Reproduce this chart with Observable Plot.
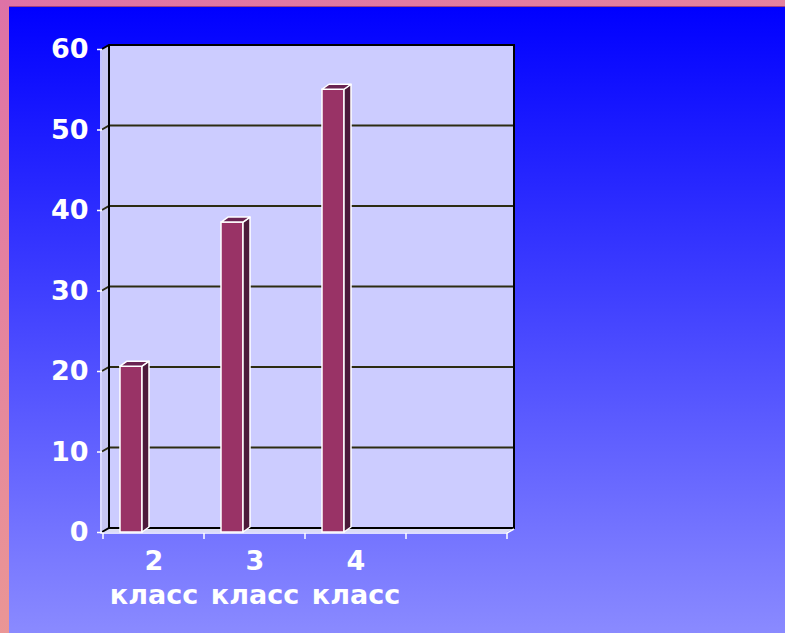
<!DOCTYPE html>
<html><head><meta charset="utf-8">
<script src="https://cdn.jsdelivr.net/npm/d3@7"></script>
<script src="https://cdn.jsdelivr.net/npm/@observablehq/plot@0.6"></script>
<style>
html,body{margin:0;padding:0;width:785px;height:633px;overflow:hidden;}
#bg{position:absolute;left:0;top:0;width:785px;height:633px;background:linear-gradient(160deg,#de72a6,#f0a68e);}
#inner{position:absolute;left:9px;top:6px;right:0;bottom:0;background:linear-gradient(#0000ff,#8a8aff);border-top:1px solid #a04080;}
#chart{position:absolute;left:0;top:0;}
</style></head><body>
<div id="bg"></div><div id="inner"></div><div id="chart"></div>
<script>
const classes = ["2 класс", "3 класс", "4 класс"];
const values = [20.6, 38.5, 55];
const categories = [...classes, ""];
const yTicks = [0, 10, 20, 30, 40, 50, 60];

const DX = 7, DY = -4;
const BDX = 7, BDY = -5;
const INSET_L = 17, INSET_R = 62;

function pts(a) { return a.map(p => p.join(",")).join(" "); }

function frame3d(index, scales, vals, dims) {
  const {x, y} = scales;
  const {width, marginLeft, marginRight} = dims;
  const x0 = marginLeft, x1 = width - marginRight;
  const yb = y(0), yt = y(60);
  const g = d3.create("svg:g");
  g.append("polygon").attr("points", pts([[x0, yt], [x0 + DX, yt + DY], [x0 + DX, yb + DY], [x0, yb]])).attr("fill", "#c6c6f2");
  g.append("polygon").attr("points", pts([[x0, yb], [x0 + DX, yb + DY], [x1 + DX, yb + DY], [x1, yb]])).attr("fill", "#dcdcf4");
  g.append("rect").attr("x", x0 + DX).attr("y", yt + DY).attr("width", x1 - x0).attr("height", yb - yt).attr("fill", "#ccccff");
  for (const t of yTicks.slice(1, -1)) {
    g.append("polyline").attr("points", pts([[x0, y(t)], [x0 + DX, y(t) + DY], [x1 + DX, y(t) + DY]]))
      .attr("fill", "none").attr("stroke", "#2c2c12").attr("stroke-width", 2);
  }
  g.append("path").attr("d", `M${x0},${yt}L${x0 + DX},${yt + DY}H${x1 + DX}V${yb + DY}H${x0 + DX}L${x0},${yb}M${x0 + DX},${yt + DY}V${yb + DY}`)
    .attr("fill", "none").attr("stroke", "#000").attr("stroke-width", 2);
  const w = d3.create("svg:g").attr("stroke", "white").attr("stroke-width", 1.5).attr("fill", "none");
  w.append("path").attr("d", `M${x0 - 1},${yt}V${yb + 1}H${x1}L${x1 + DX},${yb + 1 + DY}`);
  const bw = x(categories[1]) - x(categories[0]);
  for (const c of categories) {
    const xb = x(c);
    w.append("path").attr("d", `M${xb},${yb + 1}V${yb + 7}`);
  }
  w.append("path").attr("d", `M${x(categories[categories.length - 1]) + bw},${yb + 1}V${yb + 7}`);
  g.append(() => w.node());
  return g.node();
}

function bars3d(index, scales, vals, dims) {
  const {x, y} = scales;
  const bw = x(categories[1]) - x(categories[0]);
  const g = d3.create("svg:g").attr("stroke", "white").attr("stroke-width", 1.5).attr("stroke-linejoin", "round");
  classes.forEach((c, i) => {
    const xl = x(c) + INSET_L, xr = x(c) + bw - INSET_R;
    const ytop = y(values[i]), ybot = y(0);
    g.append("polygon").attr("points", pts([[xr, ytop], [xr + BDX, ytop + BDY], [xr + BDX, ybot + BDY], [xr, ybot]])).attr("fill", "#4c1a3a");
    g.append("polygon").attr("points", pts([[xl, ytop], [xl + BDX, ytop + BDY], [xr + BDX, ytop + BDY], [xr, ytop]])).attr("fill", "#6a2452");
  });
  return g.node();
}

const plot = Plot.plot({
  width: 785, height: 633,
  marginLeft: 102, marginRight: 278, marginTop: 49, marginBottom: 101,
  style: {background: "transparent", fontFamily: "'DejaVu Sans', Verdana, sans-serif", overflow: "visible"},
  x: {domain: categories, padding: 0, axis: null},
  y: {domain: [0, 60], axis: null},
  marks: [
    frame3d,
    Plot.axisY({ticks: yTicks, tickSize: 5, tickPadding: 9, color: "white", strokeWidth: 1.5, fontSize: 27, fontWeight: "bold", label: null}),
    Plot.axisX({tickSize: 0, tickPadding: 14, color: "white", fontSize: 27, fontWeight: "bold", lineHeight: 1.25, label: null, tickFormat: d => d.replace(" ", "\n")}),
    Plot.barY(values, {x: (d, i) => classes[i], y: d => d, fill: "#993366", stroke: "white", strokeWidth: 1.5, insetLeft: INSET_L, insetRight: INSET_R}),
    bars3d
  ]
});
document.getElementById("chart").appendChild(plot);
</script>
</body></html>
